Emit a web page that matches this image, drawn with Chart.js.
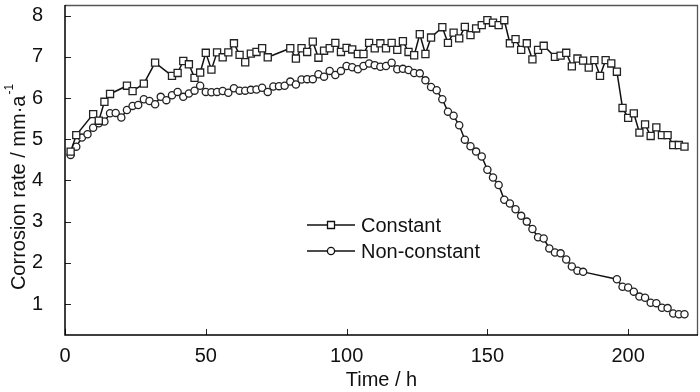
<!DOCTYPE html>
<html>
<head>
<meta charset="utf-8">
<script src="https://cdn.jsdelivr.net/npm/chart.js@4.4.1/dist/chart.umd.min.js"></script>
<style>
  html, body { margin: 0; padding: 0; background: #fff; }
  #wrap { width: 700px; height: 392px; }
</style>
</head>
<body>
<div id="wrap"><canvas id="chart"></canvas></div>
<script>
// hours and corrosion rate (mm/a)
const constTime = [2, 4, 10, 12, 14, 16, 22, 24, 28, 32, 38, 40, 42, 44, 46, 48, 50, 52, 54, 56,
  58, 60, 62, 64, 66, 68, 70, 72, 80, 82, 84, 86, 88, 90, 92, 94, 96, 98, 100, 102,
  104, 106, 108, 110, 112, 114, 116, 118, 120, 122, 124, 126, 128, 130, 134, 136, 138, 140, 142, 144,
  146, 148, 150, 152, 154, 156, 158, 160, 162, 164, 166, 168, 170, 174, 176, 178, 180, 182, 184, 186,
  188, 190, 192, 194, 196, 198, 200, 202, 204, 206, 208, 210, 212, 214, 216, 218, 220]
const constRate = [4.70, 5.10, 5.61, 5.45, 5.91, 6.10, 6.30, 6.17, 6.35, 6.86, 6.54, 6.61, 6.90, 6.82, 6.49, 6.62, 7.10, 6.69, 7.11, 6.99,
  7.11, 7.33, 7.05, 6.87, 7.08, 7.12, 7.21, 6.99, 7.21, 6.96, 7.21, 7.12, 7.37, 6.98, 7.15, 7.21, 7.34, 7.12, 7.22, 7.18,
  7.07, 7.07, 7.34, 7.21, 7.33, 7.21, 7.34, 7.17, 7.38, 7.12, 7.04, 7.55, 7.07, 7.47, 7.72, 7.34, 7.59, 7.45, 7.73, 7.53,
  7.69, 7.77, 7.89, 7.83, 7.77, 7.89, 7.33, 7.43, 7.17, 7.33, 6.94, 7.17, 7.27, 7.00, 7.03, 7.10, 6.77, 6.96, 6.91, 6.74,
  6.92, 6.54, 6.92, 6.84, 6.64, 5.76, 5.52, 5.63, 5.16, 5.36, 5.08, 5.29, 5.10, 5.10, 4.86, 4.86, 4.82]

const nonConstTime = [2, 4, 6, 8, 10, 12, 14, 16, 18, 20, 22, 24, 26, 28, 30, 32, 34, 36, 38, 40,
  42, 44, 46, 48, 50, 52, 54, 56, 58, 60, 62, 64, 66, 68, 70, 72, 74, 76, 78, 80,
  82, 84, 86, 88, 90, 92, 94, 96, 98, 100, 102, 104, 106, 108, 110, 112, 114, 116, 118, 120,
  122, 124, 126, 128, 130, 132, 134, 136, 138, 140, 142, 144, 146, 148, 150, 152, 154, 156, 158, 160,
  162, 164, 166, 168, 170, 172, 174, 176, 178, 180, 182, 184, 196, 198, 200, 202, 204, 206, 208, 210,
  212, 214, 216, 218, 220]
const nonConstRate = [4.62, 4.82, 5.04, 5.12, 5.28, 5.39, 5.43, 5.63, 5.64, 5.53, 5.71, 5.81, 5.83, 5.97, 5.93, 5.85, 6.03, 5.95, 6.07, 6.15,
  6.03, 6.11, 6.18, 6.30, 6.15, 6.14, 6.15, 6.17, 6.13, 6.24, 6.18, 6.18, 6.20, 6.21, 6.25, 6.15, 6.28, 6.29, 6.30, 6.40,
  6.33, 6.45, 6.46, 6.46, 6.58, 6.52, 6.66, 6.56, 6.66, 6.78, 6.75, 6.70, 6.78, 6.84, 6.80, 6.76, 6.78, 6.86, 6.70, 6.71,
  6.68, 6.61, 6.60, 6.43, 6.27, 6.19, 5.97, 5.67, 5.57, 5.34, 4.99, 4.83, 4.70, 4.58, 4.26, 4.07, 3.89, 3.53, 3.44, 3.30,
  3.14, 3.00, 2.82, 2.62, 2.59, 2.35, 2.25, 2.23, 2.08, 1.91, 1.81, 1.78, 1.60, 1.42, 1.40, 1.30, 1.18, 1.15, 1.03, 1.02,
  0.91, 0.90, 0.77, 0.75, 0.75]

const xTicks = [0, 50, 100, 150, 200]
const yTicks = [1, 2, 3, 4, 5, 6, 7, 8]
const seriesNames = ["Constant", "Non-constant"]

const FONT = "'Liberation Sans', Arial, sans-serif"

const toPoints = (xs, ys) => xs.map((x, i) => ({ x: x, y: ys[i] }))

// frame, inward ticks, legend and y title with superscript
const decorations = {
  id: "decorations",
  afterDraw(chart) {
    const { ctx, chartArea: a, scales } = chart
    ctx.save()

    // inward tick marks
    ctx.strokeStyle = "#222"
    ctx.lineWidth = 1
    ctx.beginPath()
    xTicks.forEach(v => {
      const px = Math.round(scales.x.getPixelForValue(v)) + 0.5
      ctx.moveTo(px, a.bottom)
      ctx.lineTo(px, a.bottom - 6)
    })
    yTicks.forEach(v => {
      const py = Math.round(scales.y.getPixelForValue(v)) + 0.5
      ctx.moveTo(a.left, py)
      ctx.lineTo(a.left + 6, py)
    })
    ctx.stroke()

    // top / right of the frame are lighter
    ctx.strokeStyle = "#555"
    ctx.lineWidth = 1.3
    ctx.beginPath()
    ctx.moveTo(a.left, a.top + 0.5)
    ctx.lineTo(a.right - 0.5, a.top + 0.5)
    ctx.lineTo(a.right - 0.5, a.bottom)
    ctx.stroke()

    ctx.strokeStyle = "#000"
    ctx.lineWidth = 1.5
    ctx.beginPath()
    ctx.moveTo(a.left, a.top)
    ctx.lineTo(a.left, a.bottom)
    ctx.lineTo(a.right, a.bottom)
    ctx.stroke()

    // legend
    const rows = [
      { label: seriesNames[0], y: 225, style: "rect" },
      { label: seriesNames[1], y: 251, style: "circle" }
    ]
    rows.forEach(r => {
      ctx.strokeStyle = "#111"
      ctx.lineWidth = 1.5
      ctx.beginPath()
      ctx.moveTo(307, r.y)
      ctx.lineTo(355, r.y)
      ctx.stroke()
      ctx.fillStyle = "#fff"
      ctx.lineWidth = 1.3
      ctx.beginPath()
      if (r.style === "rect") ctx.rect(327.5, r.y - 3.5, 7, 7)
      else ctx.arc(331, r.y, 3.6, 0, Math.PI * 2)
      ctx.fill()
      ctx.stroke()
      ctx.fillStyle = "#111"
      ctx.font = "20px " + FONT
      ctx.textAlign = "left"
      ctx.textBaseline = "middle"
      ctx.fillText(r.label, 361, r.y + 1)
    })

    // y axis title, rotated, with superscript -1
    const main = "Corrosion rate / mm\u00b7a"
    const sup = "-1"
    ctx.font = "20px " + FONT
    const wMain = ctx.measureText(main).width
    ctx.font = "12px " + FONT
    const wSup = ctx.measureText(sup).width
    const total = wMain + wSup + 1
    ctx.translate(25, 187)
    ctx.rotate(-Math.PI / 2)
    ctx.fillStyle = "#111"
    ctx.textAlign = "left"
    ctx.textBaseline = "alphabetic"
    ctx.font = "20px " + FONT
    ctx.fillText(main, -total / 2, 0)
    ctx.font = "12px " + FONT
    ctx.fillText(sup, -total / 2 + wMain + 1, -12)

    ctx.restore()
  }
}

const chart = new Chart(document.getElementById("chart"), {
  type: "line",
  data: {
    datasets: [
      {
        label: seriesNames[0],
        data: toPoints(constTime, constRate),
        borderColor: "#111",
        borderWidth: 1.5,
        pointStyle: "rect",
        pointRadius: 5,
        pointBorderWidth: 1.3,
        pointBackgroundColor: "#fff",
        pointBorderColor: "#222",
        tension: 0
      },
      {
        label: seriesNames[1],
        data: toPoints(nonConstTime, nonConstRate),
        borderColor: "#111",
        borderWidth: 1.5,
        pointStyle: "circle",
        pointRadius: 3.6,
        pointBorderWidth: 1.3,
        pointBackgroundColor: "#fff",
        pointBorderColor: "#222",
        tension: 0
      }
    ]
  },
  options: {
    responsive: true,
    maintainAspectRatio: false,
    animation: false,
    layout: { autoPadding: false, padding: { top: 5, right: 2, left: 0, bottom: 0 } },
    plugins: {
      legend: { display: false },
      tooltip: { enabled: false }
    },
    scales: {
      x: {
        type: "linear",
        min: 0,
        max: 224.8,
        grid: { display: false },
        border: { display: false },
        ticks: {
          stepSize: 50,
          includeBounds: false,
          padding: 1,
          color: "#111",
          font: { family: FONT, size: 20 }
        },
        title: {
          display: true,
          text: "Time / h",
          color: "#111",
          padding: { top: 0, bottom: 0 },
          font: { family: FONT, size: 20 }
        },
        afterFit(scale) { scale.height = 57 }
      },
      y: {
        min: 0.247,
        max: 8.26,
        grid: { display: false },
        border: { display: false },
        ticks: {
          stepSize: 1,
          includeBounds: false,
          padding: 14,
          color: "#111",
          font: { family: FONT, size: 20 }
        },
        afterFit(scale) {
          scale.width = 65
          scale.paddingTop = 0
          scale.paddingBottom = 0
        }
      }
    }
  },
  plugins: [decorations]
})
</script>
</body>
</html>
